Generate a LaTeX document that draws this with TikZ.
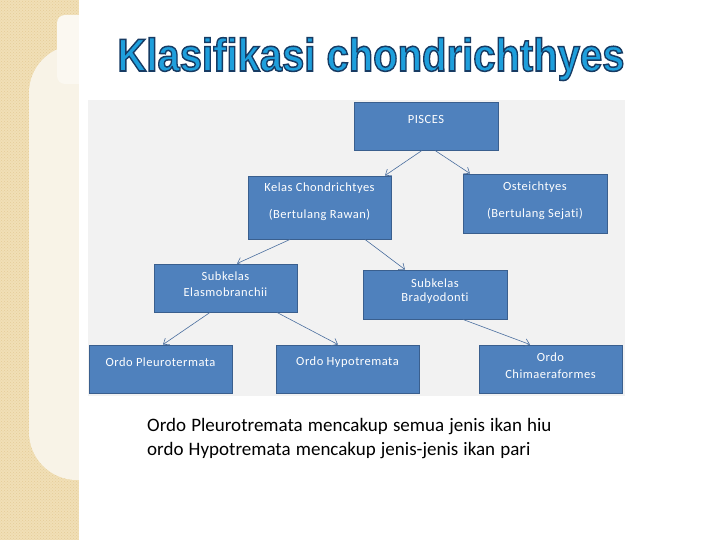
\documentclass[tikz,border=0pt]{standalone}
\usepackage{fontspec}
\setmainfont{Carlito}
\newfontfamily\titlefont{Liberation Sans}
\newfontfamily\boxfont[LetterSpace=4,Ligatures=NoCommon]{Carlito}
\newfontfamily\capfont[WordSpace=1.2,Ligatures=NoCommon]{Carlito}
\usetikzlibrary{arrows.meta,shadows,patterns}
\definecolor{boxblue}{HTML}{4F81BD}
\definecolor{boxedge}{HTML}{3A5F8E}
\definecolor{arrowcol}{HTML}{4A6E9E}
\definecolor{beige}{HTML}{F1DFB6}
\definecolor{beigedot}{HTML}{E4CC98}
\definecolor{cream}{HTML}{F8F3E7}
\definecolor{creamlight}{HTML}{FBF8F1}
\definecolor{panel}{HTML}{F2F2F2}
\definecolor{titleblue}{HTML}{1E9FDC}
\tikzset{
  boxnode/.style={draw=boxedge, fill=boxblue, line width=0.9pt, inner sep=0pt,
    drop shadow={opacity=0.25, shadow xshift=1.2pt, shadow yshift=-1.2pt}},
  boxtext/.style={text=white, font=\boxfont\fontsize{12.5}{14}\selectfont, inner sep=0pt},
  link/.style={draw=arrowcol, line width=0.6pt, -{Straight Barb[length=5pt,width=8pt]}},
  titletext/.style={inner sep=0pt, anchor=base, font=\titlefont\bfseries\fontsize{46}{50}\selectfont}
}
\newcommand{\ttitle}{\scalebox{0.87}[1]{\special{pdf:code 2 Tr 1.5 w 0.09 0.23 0.39 RG}Klasifikasi chondrichthyes\special{pdf:code 0 Tr}}}
\begin{document}
\begin{tikzpicture}[x=1pt,y=-1pt]
\useasboundingbox (0,0) rectangle (720,540);
\fill[white] (0,0) rectangle (720,540);
% left decorative strip
\fill[beige] (0,0) rectangle (79,540);
\fill[pattern=crosshatch dots, pattern color=beigedot] (0,0) rectangle (79,540);
\fill[cream, rounded corners=48pt] (29,45) rectangle (130,480);
\fill[creamlight, rounded corners=8pt] (57,15) rectangle (100,84);
\fill[white] (79,0) rectangle (720,540);
% title
\node[titletext, text=titleblue] (title) at (371,71) {\ttitle};
% diagram panel
\fill[panel] (88,100) rectangle (625,396);
% boxes
\node[boxnode, minimum width=144pt, minimum height=48pt] (p) at (426,126) {};
\node[boxnode, minimum width=143pt, minimum height=63pt] (k) at (319.5,207.5) {};
\node[boxnode, minimum width=144pt, minimum height=59pt] (o) at (535,203.5) {};
\node[boxnode, minimum width=143pt, minimum height=48pt] (e) at (225.5,288) {};
\node[boxnode, minimum width=144pt, minimum height=49pt] (b) at (435,294.5) {};
\node[boxnode, minimum width=143pt, minimum height=48pt] (pl) at (160.5,369) {};
\node[boxnode, minimum width=143pt, minimum height=48pt] (h) at (347.5,369) {};
\node[boxnode, minimum width=143pt, minimum height=48pt] (c) at (550.5,369) {};
% box texts
\node[boxtext] at (426,119) {PISCES};
\node[boxtext] at (319.5,188) {Kelas Chondrichtyes};
\node[boxtext] at (319.5,215) {(Bertulang Rawan)};
\node[boxtext] at (535,187) {Osteichtyes};
\node[boxtext] at (535,214) {(Bertulang Sejati)};
\node[boxtext] at (225.5,276) {Subkelas};
\node[boxtext] at (225.5,292) {Elasmobranchii};
\node[boxtext] at (435,283) {Subkelas};
\node[boxtext] at (435,298) {Bradyodonti};
\node[boxtext] at (160.5,362) {Ordo Pleurotermata};
\node[boxtext] at (347.5,362) {Ordo Hypotremata};
\node[boxtext] at (550.5,357) {Ordo};
\node[boxtext] at (550.5,374) {Chimaeraformes};
% connectors
\draw[link] ([xshift=-4pt]p.south) -- ([xshift=65.5pt]k.north);
\draw[link] ([xshift=9pt]p.south) -- ([xshift=-65pt]o.north);
\draw[link] ([xshift=-29.5pt]k.south) -- ([xshift=11.5pt]e.north);
\draw[link] ([xshift=45.5pt]k.south) -- ([xshift=-30pt]b.north);
\draw[link] ([xshift=-15.5pt]e.south) -- ([xshift=2.5pt]pl.north);
\draw[link] ([xshift=51.5pt]e.south) -- ([xshift=-9.5pt]h.north);
\draw[link] ([xshift=28pt]b.south) -- ([xshift=-20.5pt]c.north);
% caption
\node[anchor=base west, inner sep=0pt, font=\capfont\fontsize{19}{22}\selectfont] (cap1) at (147,431) {Ordo Pleurotremata mencakup semua jenis ikan hiu};
\node[anchor=base west, inner sep=0pt, font=\capfont\fontsize{19}{22}\selectfont] (cap2) at (147,455) {ordo Hypotremata mencakup jenis-jenis ikan pari};
\end{tikzpicture}
\end{document}
